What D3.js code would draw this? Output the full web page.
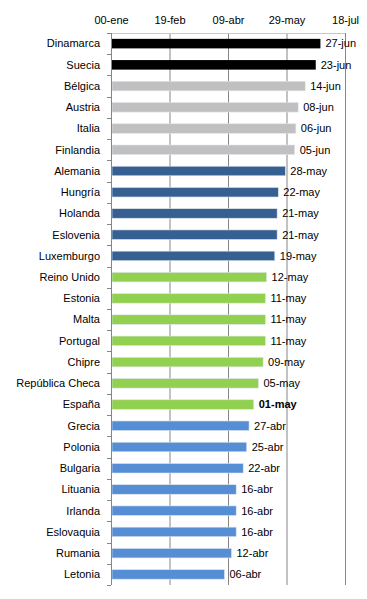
<!DOCTYPE html>
<html><head><meta charset="utf-8">
<script src="https://cdn.jsdelivr.net/npm/d3@7"></script>
<style>body{margin:0;background:#fff}svg{display:block}text{font-family:"Liberation Sans",Arial,sans-serif}</style>
</head><body><svg id="c" width="367" height="599"></svg>
<script>
const countries=["Dinamarca","Suecia","Bélgica","Austria","Italia","Finlandia","Alemania","Hungría","Holanda","Eslovenia","Luxemburgo","Reino Unido","Estonia","Malta","Portugal","Chipre","República Checa","España","Grecia","Polonia","Bulgaria","Lituania","Irlanda","Eslovaquia","Rumania","Letonia"];
const dates=["2012-06-27","2012-06-23","2012-06-14","2012-06-08","2012-06-06","2012-06-05","2012-05-28","2012-05-22","2012-05-21","2012-05-21","2012-05-19","2012-05-12","2012-05-11","2012-05-11","2012-05-11","2012-05-09","2012-05-05","2012-05-01","2012-04-27","2012-04-25","2012-04-22","2012-04-16","2012-04-16","2012-04-16","2012-04-12","2012-04-06"];
const valueLabels=["27-jun","23-jun","14-jun","08-jun","06-jun","05-jun","28-may","22-may","21-may","21-may","19-may","12-may","11-may","11-may","11-may","09-may","05-may","01-may","27-abr","25-abr","22-abr","16-abr","16-abr","16-abr","12-abr","06-abr"];
const groups=[0,0,1,1,1,1,2,2,2,2,2,3,3,3,3,3,3,3,4,4,4,4,4,4,4,4];
const groupColors=["#000000","#c0c0c0","#376092","#92d050","#558ed5"];
const tickDates=["2011-12-31","2012-02-19","2012-04-09","2012-05-29","2012-07-18"];
const tickLabels=["00-ene","19-feb","09-abr","29-may","18-jul"];
const highlight="España";

const svg=d3.select("#c");
const L=111,R=345,T=33,B=585;
const parse=d3.utcParse("%Y-%m-%d");
const x=d3.scaleUtc().domain([parse(tickDates[0]),parse(tickDates[4])]).range([L,R]);
const y=d3.scaleBand().domain(countries).range([T,B]).paddingInner(0.55).paddingOuter(0.275);

// gridlines
svg.append("g").selectAll("line").data(tickDates.slice(1)).join("line")
 .attr("x1",d=>x(parse(d))+0.5).attr("x2",d=>x(parse(d))+0.5).attr("y1",T).attr("y2",B)
 .attr("stroke","#868686").attr("stroke-width",1);
// top line
svg.append("line").attr("x1",L).attr("x2",R).attr("y1",T+0.5).attr("y2",T+0.5).attr("stroke","#c8c8c8");

// top axis labels
const ax=d3.axisTop(x).tickValues(tickDates.map(parse)).tickFormat((d,i)=>tickLabels[i]).tickSize(0).tickPadding(0);
const ag=svg.append("g").attr("transform",`translate(0,${T-9})`).call(ax);
ag.select(".domain").remove();
ag.selectAll("text").attr("font-size",11).attr("fill","#000").attr("font-family","Liberation Sans, Arial, sans-serif").attr("dy","0");

// bars
svg.append("g").selectAll("rect").data(countries).join("rect")
 .attr("x",L+1).attr("y",d=>y(d)).attr("height",y.bandwidth())
 .attr("width",(d,i)=>x(parse(dates[i]))-L-1)
 .attr("fill",(d,i)=>groupColors[groups[i]])
 .attr("stroke",(d,i)=>groups[i]===0?"none":"#dfe6ef").attr("stroke-width",0.6);

// left axis
svg.append("line").attr("x1",L+0.5).attr("x2",L+0.5).attr("y1",T).attr("y2",B).attr("stroke","#868686");
const step=y.step();
const bounds=d3.range(countries.length+1).map(i=>T+i*(B-T)/countries.length);
svg.append("g").selectAll("line").data(bounds).join("line")
 .attr("x1",L-4).attr("x2",L).attr("y1",d=>Math.round(d)+0.5).attr("y2",d=>Math.round(d)+0.5).attr("stroke","#868686");

// category labels
svg.append("g").selectAll("text").data(countries).join("text")
 .attr("x",L-11).attr("y",d=>y(d)+y.bandwidth()/2).attr("dy","0.35em")
 .attr("text-anchor","end").attr("font-size",11).attr("fill","#000").text(d=>d);

// value labels
svg.append("g").selectAll("text").data(countries).join("text")
 .attr("x",(d,i)=>x(parse(dates[i]))+5).attr("y",d=>y(d)+y.bandwidth()/2).attr("dy","0.35em")
 .attr("font-size",11).attr("fill","#000")
 .attr("font-weight",d=>d===highlight?"bold":"normal")
 .text((d,i)=>valueLabels[i]);
</script></body></html>
